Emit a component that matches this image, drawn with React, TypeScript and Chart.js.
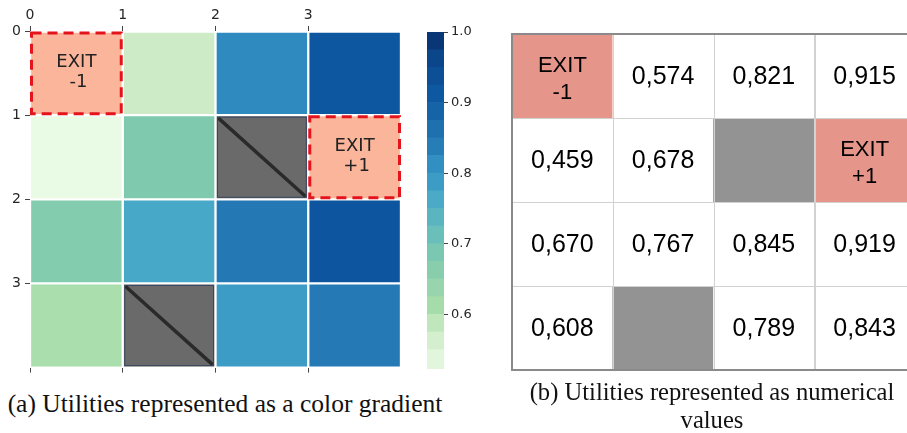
import React, { useEffect, useRef } from 'react';
import { Chart, registerables } from 'chart.js';

Chart.register(...registerables);

// ---------------- data ----------------
const COLUMNS = ['0', '1', '2', '3'];
const AXIS_TICKS = [0, 1, 2, 3];

// utilities per grid row (null = special cell)
const ROW_0 = [null, 0.574, 0.821, 0.915];
const ROW_1 = [0.459, 0.678, null, null];
const ROW_2 = [0.67, 0.767, 0.845, 0.919];
const ROW_3 = [0.608, null, 0.789, 0.843];

// cell kinds per row
const KIND_0 = ['exit', 'value', 'value', 'value'];
const KIND_1 = ['value', 'value', 'wall', 'exit'];
const KIND_2 = ['value', 'value', 'value', 'value'];
const KIND_3 = ['value', 'wall', 'value', 'value'];

// exit rewards per row
const EXIT_0 = ['-1', '', '', ''];
const EXIT_1 = ['', '', '', '+1'];
const EXIT_2 = ['', '', '', ''];
const EXIT_3 = ['', '', '', ''];

const UTILITIES = [ROW_0, ROW_1, ROW_2, ROW_3];
const KINDS = [KIND_0, KIND_1, KIND_2, KIND_3];
const EXITS = [EXIT_0, EXIT_1, EXIT_2, EXIT_3];

// colour bar
const CB_TICKS = [0.6, 0.7, 0.8, 0.9, 1.0];
const CB_LEVELS = [
  0.5225, 0.55, 0.575, 0.6, 0.625, 0.65, 0.675, 0.7, 0.725, 0.75, 0.775, 0.8,
  0.825, 0.85, 0.875, 0.9, 0.925, 0.95, 0.975, 1.0,
];

const CAPTION_A = '(a) Utilities represented as a color gradient';
const CAPTION_B1 = '(b) Utilities represented as numerical';
const CAPTION_B2 = 'values';

// ---------------- styles ----------------
const CMAP: [number, string][] = [
  [0.52, '#e9fbe5'],
  [0.575, '#cdebc6'],
  [0.61, '#a8ddaa'],
  [0.675, '#81cbae'],
  [0.72, '#66bdbd'],
  [0.77, '#45a7c9'],
  [0.79, '#3b9bc6'],
  [0.82, '#2e8bbf'],
  [0.845, '#2479b4'],
  [0.915, '#0d56a0'],
  [0.96, '#0b478c'],
  [1.0, '#08306b'],
];

function hexToRgb(h: string) {
  const n = parseInt(h.slice(1), 16);
  return [(n >> 16) & 255, (n >> 8) & 255, n & 255];
}

function cmap(v: number): string {
  if (v <= CMAP[0][0]) return CMAP[0][1];
  for (let i = 1; i < CMAP.length; i++) {
    if (v <= CMAP[i][0]) {
      const [v0, c0] = CMAP[i - 1];
      const [v1, c1] = CMAP[i];
      const t = (v - v0) / (v1 - v0);
      const a = hexToRgb(c0);
      const b = hexToRgb(c1);
      const m = a.map((x, k) => Math.round(x + (b[k] - x) * t));
      return `rgb(${m[0]},${m[1]},${m[2]})`;
    }
  }
  return CMAP[CMAP.length - 1][1];
}

const HEAT_EXIT = '#fbb59b';
const HEAT_WALL = '#6a6a6a';
const TABLE_EXIT = '#e6958b';
const TABLE_WALL = '#939393';

function heatColor(kind: string, v: number | null) {
  if (kind === 'exit') return HEAT_EXIT;
  if (kind === 'wall') return HEAT_WALL;
  return cmap(v as number);
}
function tableColor(kind: string) {
  if (kind === 'exit') return TABLE_EXIT;
  if (kind === 'wall') return TABLE_WALL;
  return '#ffffff';
}

function cellBox(el: any) {
  const p = el.getProps(['x', 'y', 'base', 'width'], true);
  const left = p.x - p.width / 2;
  const top = Math.min(p.y, p.base);
  const bottom = Math.max(p.y, p.base);
  return { left, top, w: p.width, h: bottom - top, cx: p.x, cy: (top + bottom) / 2 };
}

const AXIS_FONT = { family: 'DejaVu Sans', size: 14 };

// ---------------- heatmap ----------------
const heatPlugin = {
  id: 'heatOverlay',
  afterDatasetsDraw(chart: any) {
    const ctx = chart.ctx;
    ctx.save();
    UTILITIES.forEach((row, r) => {
      const meta = chart.getDatasetMeta(r);
      row.forEach((_v, c) => {
        const b = cellBox(meta.data[c]);
        const kind = KINDS[r][c];
        if (kind === 'wall') {
          ctx.setLineDash([]);
          ctx.strokeStyle = '#3a4560';
          ctx.lineWidth = 1;
          ctx.strokeRect(b.left + 2, b.top + 2, b.w - 4, b.h - 4);
          ctx.strokeStyle = '#2a2a2a';
          ctx.lineWidth = 3.5;
          ctx.lineCap = 'round';
          ctx.beginPath();
          ctx.moveTo(b.left + 4, b.top + 4);
          ctx.lineTo(b.left + b.w - 4, b.top + b.h - 4);
          ctx.stroke();
        } else if (kind === 'exit') {
          ctx.setLineDash([10, 6]);
          ctx.lineCap = 'butt';
          ctx.strokeStyle = '#e3141b';
          ctx.lineWidth = 3;
          ctx.strokeRect(b.left + 1.5, b.top + 1.5, b.w - 3, b.h - 3);
          ctx.setLineDash([]);
          ctx.fillStyle = '#222222';
          ctx.font = '18px "DejaVu Sans"';
          ctx.textAlign = 'center';
          ctx.textBaseline = 'middle';
          ctx.fillText('EXIT', b.cx, b.cy - 11);
          ctx.fillText(EXITS[r][c], b.cx + 2, b.cy + 9);
        }
      });
    });
    ctx.restore();
  },
};

function Heatmap() {
  const ref = useRef<HTMLCanvasElement>(null);
  useEffect(() => {
    const datasets = UTILITIES.map((row, r) => ({
      label: `row ${r}`,
      data: row.map(() => 1),
      backgroundColor: row.map((v, c) => heatColor(KINDS[r][c], v)),
      borderColor: '#ffffff',
      borderWidth: 1.5,
      borderSkipped: false,
      barPercentage: 1,
      categoryPercentage: 1,
      stack: 'grid',
      xAxisID: 'x',
      yAxisID: 'y',
    }));
    const setTicks = (s: any) => {
      s.ticks = AXIS_TICKS.map((v) => ({ value: v }));
    };
    const chart = new Chart(ref.current as HTMLCanvasElement, {
      type: 'bar',
      data: { labels: COLUMNS, datasets: datasets as any },
      options: {
        responsive: false,
        animation: false,
        layout: { padding: { left: 0, right: 19, top: 0, bottom: 0 } },
        plugins: { legend: { display: false }, tooltip: { enabled: false } },
        scales: {
          x: { type: 'category', display: false, stacked: true, offset: true },
          xTop: {
            type: 'linear',
            position: 'top',
            min: 0,
            max: 4,
            offset: false,
            afterBuildTicks: setTicks,
            afterFit: (s: any) => {
              s.height = 31;
            },
            ticks: { font: AXIS_FONT, color: '#262626', padding: 2, maxRotation: 0 },
            grid: { offset: false, drawOnChartArea: false, tickLength: 5, color: '#444444' },
            border: { display: false },
          },
          xBottom: {
            type: 'linear',
            position: 'bottom',
            min: 0,
            max: 4,
            offset: false,
            afterBuildTicks: setTicks,
            afterFit: (s: any) => {
              s.height = 11;
            },
            ticks: { callback: () => '', font: AXIS_FONT, padding: 0 },
            grid: { offset: false, drawOnChartArea: false, tickLength: 5, color: '#444444' },
            border: { display: false },
          },
          y: {
            type: 'linear',
            position: 'left',
            reverse: true,
            stacked: true,
            min: 0,
            max: 4,
            afterBuildTicks: setTicks,
            afterFit: (s: any) => {
              s.width = 30;
            },
            ticks: { font: AXIS_FONT, color: '#262626', padding: 4 },
            grid: { drawOnChartArea: false, tickLength: 5, color: '#444444' },
            border: { display: false },
          },
        } as any,
      },
      plugins: [heatPlugin],
    });
    return () => chart.destroy();
  }, []);
  return (
    <canvas
      ref={ref}
      width={420}
      height={380}
      style={{ position: 'absolute', left: 0, top: 0, width: 420, height: 380 }}
    />
  );
}

// ---------------- colour bar ----------------
function ColorBar() {
  const ref = useRef<HTMLCanvasElement>(null);
  useEffect(() => {
    const datasets = CB_LEVELS.slice(0, -1).map((lo, i) => {
      const hi = CB_LEVELS[i + 1];
      return {
        label: `band ${i}`,
        data: [[lo, hi]],
        backgroundColor: cmap((lo + hi) / 2),
        borderWidth: 0,
        barPercentage: 1,
        categoryPercentage: 1,
        grouped: false,
      };
    });
    const chart = new Chart(ref.current as HTMLCanvasElement, {
      type: 'bar',
      data: { labels: ['cb'], datasets: datasets as any },
      options: {
        responsive: false,
        animation: false,
        layout: { padding: { left: 7, right: 0, top: 32, bottom: 11 } },
        plugins: { legend: { display: false }, tooltip: { enabled: false } },
        scales: {
          x: { type: 'category', display: false },
          y: {
            type: 'linear',
            position: 'right',
            min: CB_LEVELS[0],
            max: 1.0,
            afterBuildTicks: (s: any) => {
              s.ticks = CB_TICKS.map((v) => ({ value: v }));
            },
            afterFit: (s: any) => {
              s.width = 36;
            },
            ticks: {
              font: { family: 'DejaVu Sans', size: 13 },
              color: '#262626',
              padding: 3,
              callback: (v: any) => Number(v).toFixed(1),
            },
            grid: { drawOnChartArea: false, tickLength: 4, color: '#444444' },
            border: { display: false },
          },
        } as any,
      },
    });
    return () => chart.destroy();
  }, []);
  return (
    <canvas
      ref={ref}
      width={60}
      height={380}
      style={{ position: 'absolute', left: 420, top: 0, width: 60, height: 380 }}
    />
  );
}

// ---------------- table ----------------
const tablePlugin = {
  id: 'tableOverlay',
  afterDatasetsDraw(chart: any) {
    const ctx = chart.ctx;
    ctx.save();
    UTILITIES.forEach((row, r) => {
      const meta = chart.getDatasetMeta(r);
      row.forEach((_v, c) => {
        const b = cellBox(meta.data[c]);
        ctx.strokeStyle = '#d2d2d2';
        ctx.lineWidth = 1;
        ctx.strokeRect(Math.round(b.left) + 0.5, Math.round(b.top) + 0.5, Math.round(b.w), Math.round(b.h));
      });
    });
    const a = chart.chartArea;
    ctx.strokeStyle = '#8a8a8a';
    ctx.lineWidth = 2;
    ctx.beginPath();
    ctx.moveTo(a.right + 5, a.top);
    ctx.lineTo(a.left, a.top);
    ctx.lineTo(a.left, a.bottom);
    ctx.lineTo(a.right + 5, a.bottom);
    ctx.stroke();

    ctx.fillStyle = '#000000';
    ctx.textAlign = 'center';
    ctx.textBaseline = 'middle';
    UTILITIES.forEach((row, r) => {
      const meta = chart.getDatasetMeta(r);
      row.forEach((v, c) => {
        const b = cellBox(meta.data[c]);
        const kind = KINDS[r][c];
        if (kind === 'exit') {
          ctx.font = '22px "Liberation Sans"';
          ctx.fillText('EXIT', b.cx, b.cy - 10);
          ctx.fillText(EXITS[r][c], b.cx, b.cy + 17);
        } else if (kind === 'value' && v !== null) {
          ctx.font = '25px "Liberation Sans"';
          ctx.fillText((v as number).toFixed(3).replace('.', ','), b.cx, b.cy + 1);
        }
      });
    });
    ctx.restore();
  },
};

function Table() {
  const ref = useRef<HTMLCanvasElement>(null);
  useEffect(() => {
    const datasets = UTILITIES.map((row, r) => ({
      label: `row ${r}`,
      data: row.map(() => 1),
      backgroundColor: row.map((_v, c) => tableColor(KINDS[r][c])),
      borderWidth: 0,
      barPercentage: 1,
      categoryPercentage: 1,
      stack: 'grid',
    }));
    const chart = new Chart(ref.current as HTMLCanvasElement, {
      type: 'bar',
      data: { labels: COLUMNS, datasets: datasets as any },
      options: {
        responsive: false,
        animation: false,
        layout: { padding: { left: 7, right: 0, top: 34, bottom: 10 } },
        plugins: { legend: { display: false }, tooltip: { enabled: false } },
        scales: {
          x: { type: 'category', display: false, stacked: true, offset: true },
          y: { type: 'linear', display: false, reverse: true, stacked: true, min: 0, max: 4 },
        } as any,
      },
      plugins: [tablePlugin],
    });
    return () => chart.destroy();
  }, []);
  return (
    <canvas
      ref={ref}
      width={410}
      height={380}
      style={{ position: 'absolute', left: 505, top: 0, width: 410, height: 380 }}
    />
  );
}

// ---------------- app ----------------
const captionStyle: React.CSSProperties = {
  position: 'absolute',
  fontFamily: '"Liberation Serif", serif',
  color: '#111111',
  textAlign: 'center',
  whiteSpace: 'nowrap',
};

export default function App() {
  return (
    <div
      style={{
        position: 'fixed',
        left: 0,
        top: 0,
        width: 907,
        height: 433,
        overflow: 'hidden',
        background: '#ffffff',
      }}
    >
      <Heatmap />
      <ColorBar />
      <Table />
      <div style={{ ...captionStyle, fontSize: 25.5, left: 0, width: 450, top: 389, lineHeight: '30px' }}>
        {CAPTION_A}
      </div>
      <div style={{ ...captionStyle, fontSize: 24.6, left: 512, width: 400, top: 378, lineHeight: '28px' }}>
        {CAPTION_B1}
        <br />
        {CAPTION_B2}
      </div>
    </div>
  );
}
